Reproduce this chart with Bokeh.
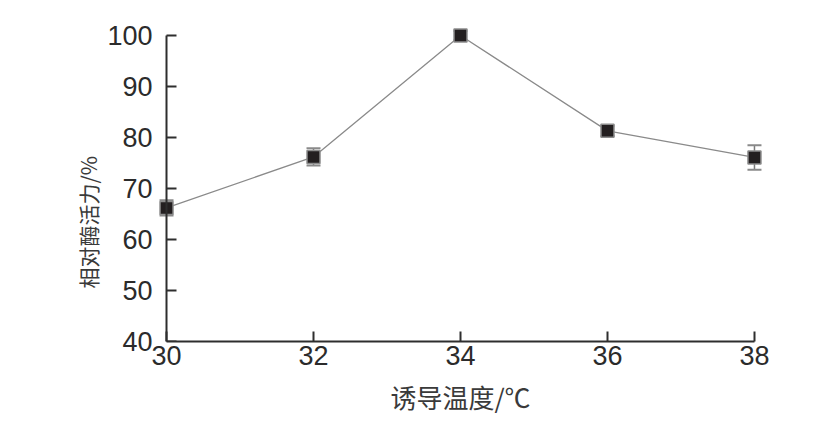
from bokeh.plotting import figure
from bokeh.models import (Range1d, LinearAxis, Whisker, ColumnDataSource,
                          FixedTicker, TeeHead, Title)
from bokeh.embed import file_html
from bokeh.resources import INLINE

temps = [30, 32, 34, 36, 38]
activity = [66.2, 76.2, 100.0, 81.3, 76.1]
errors = [1.5, 1.7, 0.9, 1.0, 2.4]
x_ticks = [30, 32, 34, 36, 38]
y_ticks = [40, 50, 60, 70, 80, 90, 100]
x_label = "诱导温度/℃"
y_label = "相对酶活力/%"

src = ColumnDataSource(dict(
    x=temps, y=activity,
    lower=[a - e for a, e in zip(activity, errors)],
    upper=[a + e for a, e in zip(activity, errors)],
))

p = figure(width=824, height=426, output_backend="svg", toolbar_location=None,
           x_range=Range1d(29.85, 38.15), y_range=Range1d(40, 102.55),
           x_axis_location=None, y_axis_location=None,
           min_border_left=155, min_border_right=59,
           min_border_top=22, min_border_bottom=85)
p.grid.visible = False
p.outline_line_color = None
p.background_fill_color = "white"
p.border_fill_color = "white"

tick_font = "Liberation Sans"
axis_color = "#2e2e2e"
label_color = "#3a3a3a"

def style_ticks(ax):
    ax.major_tick_in = 10
    ax.major_tick_out = 0
    ax.minor_tick_in = 0
    ax.minor_tick_out = 0
    ax.axis_line_color = axis_color
    ax.axis_line_width = 2
    ax.major_tick_line_color = axis_color
    ax.major_tick_line_width = 2
    ax.major_label_text_font = tick_font
    ax.major_label_text_font_size = "27px"
    ax.major_label_text_color = "#2b2b2b"

# bottom axis
xaxis = LinearAxis(bounds=(30, 38), ticker=FixedTicker(ticks=x_ticks),
                   axis_label=x_label)
style_ticks(xaxis)
xaxis.major_label_standoff = 4
xaxis.axis_label_text_font = "Noto Sans CJK SC"
xaxis.axis_label_text_font_size = "26px"
xaxis.axis_label_text_font_style = "normal"
xaxis.axis_label_text_color = label_color
xaxis.axis_label_standoff = 10
p.add_layout(xaxis, "below")

# y axis line + ticks at x = 30
yline = LinearAxis(bounds=(40, 100), ticker=FixedTicker(ticks=y_ticks),
                   fixed_location=30)
style_ticks(yline)
yline.major_label_text_color = None
yline.major_label_text_font_size = "1px"
p.add_layout(yline, "left")

# y tick labels (left of frame)
ylabels = LinearAxis(bounds=(40, 100), ticker=FixedTicker(ticks=y_ticks))
style_ticks(ylabels)
ylabels.axis_line_color = None
ylabels.major_tick_line_color = None
ylabels.major_tick_in = 0
ylabels.major_label_standoff = 3
p.add_layout(ylabels, "left")

# y axis title
p.add_layout(Title(text=y_label, align="left", offset=53, standoff=4,
                   text_font="Noto Sans CJK SC", text_font_size="21px",
                   text_font_style="normal", text_color=label_color), "left")

p.line("x", "y", source=src, line_color="#8a8a8a", line_width=1.3)
p.add_layout(Whisker(source=src, base="x", lower="lower", upper="upper",
                     dimension="height", line_color="#7a7a7a", line_width=1.5,
                     upper_head=TeeHead(size=14, line_color="#8a8a8a", line_width=2),
                     lower_head=TeeHead(size=14, line_color="#8a8a8a", line_width=2)))
p.scatter("x", "y", source=src, marker="square", size=13,
          fill_color="#231f20", line_color="#8c8c8c", line_width=1.5)

open("out.html", "w").write(file_html(p, INLINE))
